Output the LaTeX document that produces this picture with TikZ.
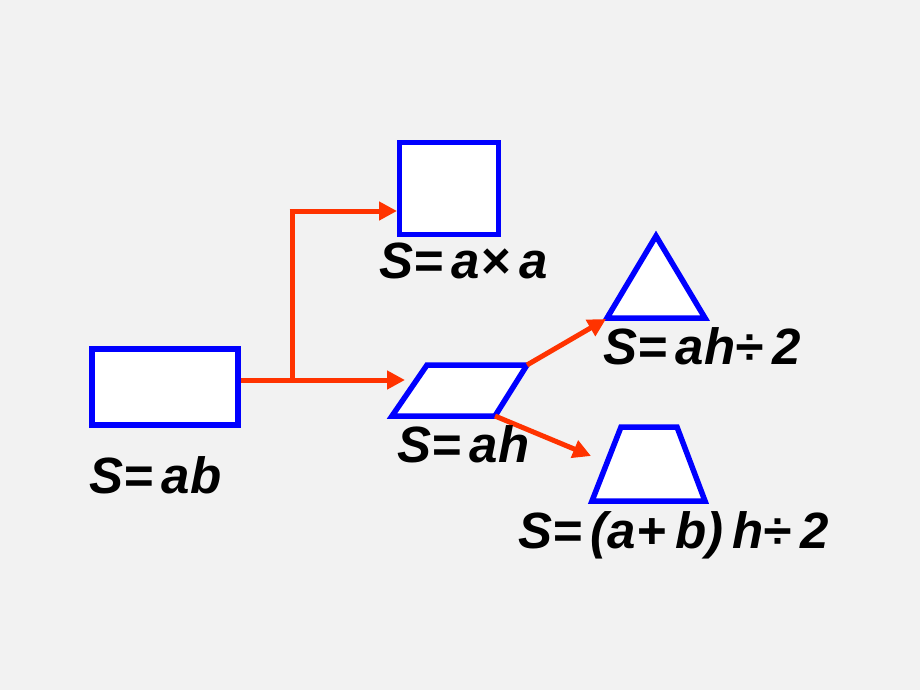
\documentclass[tikz,border=0pt]{standalone}
\usepackage{fontspec}
\setmainfont{Liberation Sans}
\usetikzlibrary{arrows.meta}
\definecolor{bgc}{HTML}{F2F2F2}
\definecolor{shapeblue}{HTML}{0000FF}
\definecolor{arrred}{HTML}{FF3300}
\newcommand\gapx{\hspace{9pt}}
\tikzset{
  shapeline/.style={draw=shapeblue, line width=5.5pt, fill=white, line join=miter},
  conn/.style={draw=arrred, line width=5pt},
  arr/.style={conn, -{Triangle[length=18pt,width=18pt]}},
  formula/.style={anchor=base west, inner sep=0pt, font=\fontsize{51}{60}\selectfont\bfseries\itshape}
}
\begin{document}
\begin{tikzpicture}[x=1pt,y=-1pt]
\fill[bgc] (0,0) rectangle (920,690);
\useasboundingbox (0,0) rectangle (920,690);
% shapes
\node[shapeline, minimum width=146pt, minimum height=76pt, inner sep=0pt] (rect) at (165,387) {};
\node[shapeline, minimum width=99pt, minimum height=92pt, inner sep=0pt] (sq) at (449,188.5) {};
\coordinate (pTL) at (427,365); \coordinate (pTR) at (527,365);
\coordinate (pBR) at (495,416); \coordinate (pBL) at (392,416);
\draw[shapeline] (pTL) -- (pTR) -- (pBR) -- (pBL) -- cycle;
\coordinate (tA) at (656,236); \coordinate (tL) at (607,318); \coordinate (tR) at (705,318);
\draw[shapeline] (tA) -- (tR) -- (tL) -- cycle;
\coordinate (zTL) at (621,427); \coordinate (zTR) at (677,427);
\coordinate (zBR) at (705,501); \coordinate (zBL) at (592,501);
\draw[shapeline] (zTL) -- (zTR) -- (zBR) -- (zBL) -- cycle;
% connectors
\coordinate (j) at (292,380);
\coordinate (pin) at (405,380);
\coordinate (sqin) at (397,211);
\coordinate (trin) at (606,319);
\coordinate (zin) at (591,456);
\draw[conn] (rect.east |- j) -- (j);
\draw[arr] (j) -- (pin);
\draw[conn] ([yshift=2.5pt]j) -- (j |- sqin) -- ++(-2.5,0);
\draw[arr] ([xshift=-2.5pt]j |- sqin) -- (sqin);
\draw[arr] (pTR) -- (trin);
\draw[arr] (pBR) -- (zin);
% labels
\node[formula] (lab1) at (89,493) {S=\gapx ab};
\node[formula] (lab2) at (379,278) {S=\gapx a×\gapx a};
\node[formula] (lab3) at (397,462) {S=\gapx ah};
\node[formula] (lab4) at (603,364) {S=\gapx ah÷\gapx 2};
\node[formula] (lab5) at (518,548) {S=\gapx (a+\gapx b)\gapx h÷\gapx 2};
\end{tikzpicture}
\end{document}
